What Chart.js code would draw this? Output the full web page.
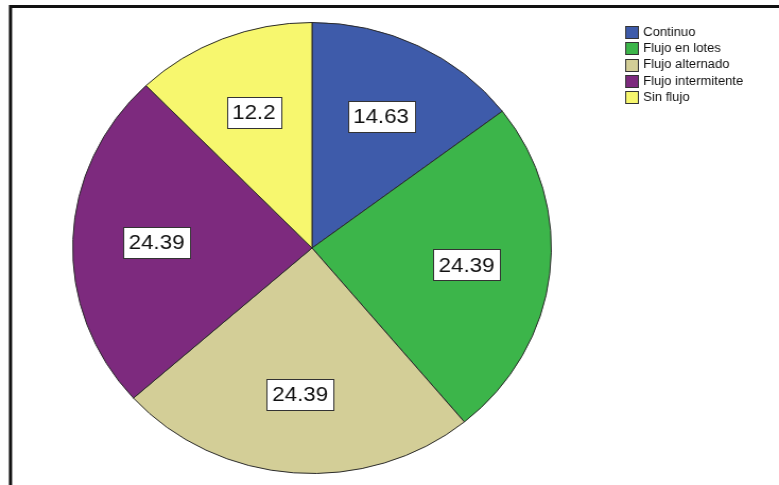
<!DOCTYPE html>
<html>
<head>
<meta charset="utf-8">
<script src="https://cdn.jsdelivr.net/npm/chart.js@4/dist/chart.umd.min.js"></script>
<style>
  html, body { margin: 0; padding: 0; background: #fff; overflow: hidden; }
  #wrap { position: relative; width: 779px; height: 485px; overflow: hidden; }
  /* the figure is drawn slightly narrower and widened to the full width */
  #c { position: absolute; left: 0; top: 0; width: 779px; height: 485px; }
</style>
</head>
<body>
<div id="wrap"><canvas id="c" width="734" height="485" style="width:779px;height:485px"></canvas></div>
<script>
// Categories and their percentages
const categories = ['Continuo', 'Flujo en lotes', 'Flujo alternado', 'Flujo intermitente', 'Sin flujo'];
const percentages = [14.63, 24.39, 24.39, 24.39, 12.2];
const sliceColors = ['#3E5BAA', '#3CB54A', '#D3CE97', '#7D2A7E', '#F7F76E'];

// White boxed value labels placed inside each slice
const valueLabels = {
  id: 'valueLabels',
  afterDatasetsDraw(chart) {
    const ctx = chart.ctx;
    const meta = chart.getDatasetMeta(0);
    ctx.save();
    ctx.font = '21px "Liberation Sans", Arial, sans-serif';
    ctx.textAlign = 'center';
    ctx.textBaseline = 'middle';
    meta.data.forEach((arc, i) => {
      const p = arc.getProps(['x', 'y', 'startAngle', 'endAngle', 'outerRadius'], true);
      const mid = (p.startAngle + p.endAngle) / 2;
      const r = p.outerRadius * 0.65;
      const x = p.x + Math.cos(mid) * r;
      const y = p.y + Math.sin(mid) * r;
      const txt = String(chart.data.datasets[0].data[i]);
      const w = Math.round(ctx.measureText(txt).width + 10);
      const h = 31;
      const bx = Math.round(x - w / 2) + 0.5;
      const by = Math.round(y - h / 2) + 0.5;
      ctx.fillStyle = '#fff';
      ctx.fillRect(bx, by, w, h);
      ctx.strokeStyle = '#333';
      ctx.lineWidth = 1;
      ctx.strokeRect(bx, by, w, h);
      ctx.fillStyle = '#111';
      ctx.fillText(txt, x, y + 1);
    });
    ctx.restore();
  }
};

// Legend in the upper right plus the frame along the top and left edges
const sideLegend = {
  id: 'sideLegend',
  afterDraw(chart) {
    const ctx = chart.ctx;
    const ds = chart.data.datasets[0];
    ctx.save();
    ctx.font = '12.3px "Liberation Sans", Arial, sans-serif';
    ctx.textBaseline = 'middle';
    ctx.textAlign = 'left';
    chart.data.labels.forEach((lab, i) => {
      const y = 32 + i * 16.3;
      ctx.fillStyle = ds.backgroundColor[i];
      ctx.fillRect(589.5, Math.round(y - 6) + 0.5, 12, 12);
      ctx.strokeStyle = '#333';
      ctx.lineWidth = 1;
      ctx.strokeRect(589.5, Math.round(y - 6) + 0.5, 12, 12);
      ctx.fillStyle = '#111';
      ctx.fillText(lab, 606, y + 0.5);
    });
    ctx.strokeStyle = '#111';
    ctx.lineWidth = 3;
    ctx.beginPath();
    ctx.moveTo(9.9, 485);
    ctx.lineTo(9.9, 6.5);
    ctx.lineTo(734, 6.5);
    ctx.stroke();
    ctx.restore();
  }
};

new Chart(document.getElementById('c'), {
  type: 'pie',
  data: {
    labels: categories,
    datasets: [{
      data: percentages,
      backgroundColor: sliceColors,
      borderColor: '#2a2a2a',
      borderWidth: 1
    }]
  },
  options: {
    responsive: false,
    animation: false,
    devicePixelRatio: 1,
    rotation: 0,
    layout: { padding: { left: 68, right: 214, top: 22, bottom: 11 } },
    plugins: {
      legend: { display: false },
      tooltip: { enabled: false }
    }
  },
  plugins: [valueLabels, sideLegend]
});
</script>
</body>
</html>
